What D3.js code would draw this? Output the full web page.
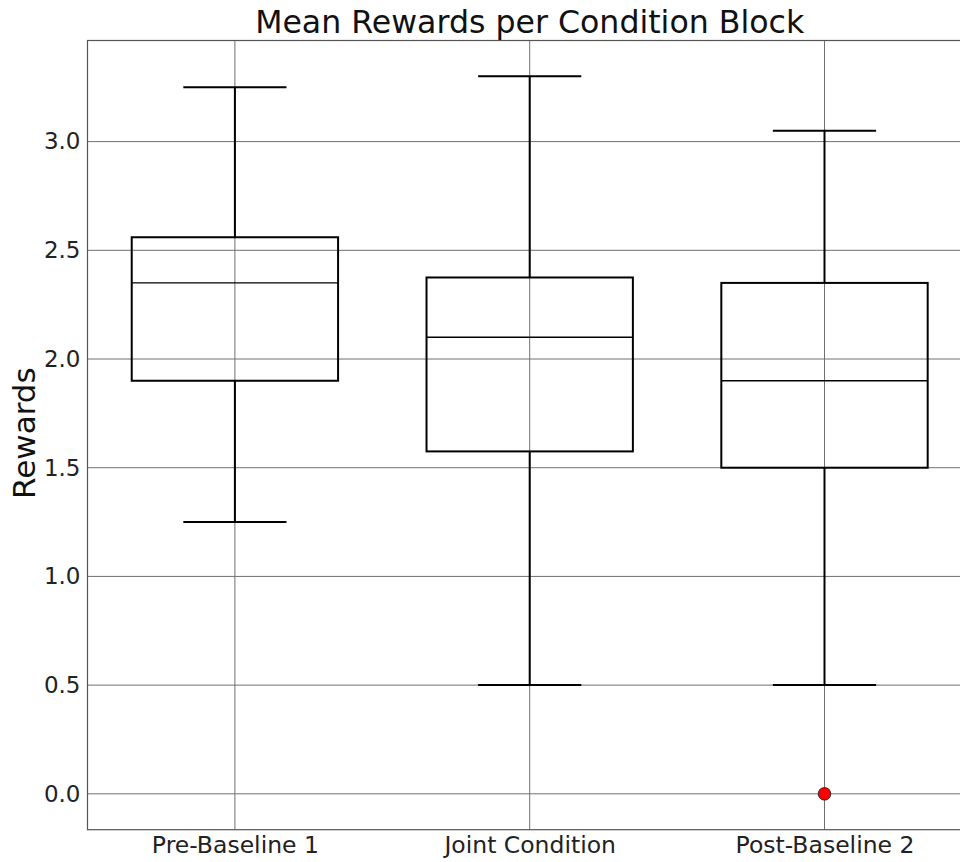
<!DOCTYPE html>
<html>
<head>
<meta charset="utf-8">
<script src="https://cdn.jsdelivr.net/npm/d3@7"></script>
<style>
  html, body { margin: 0; padding: 0; background: #fff; }
  svg { display: block; font-family: "DejaVu Sans", sans-serif; }
</style>
</head>
<body>
<svg id="chart" width="960" height="862"></svg>
<script>
// Data
const categories = ["Pre-Baseline 1", "Joint Condition", "Post-Baseline 2"];
const whiskerLow  = [1.25, 0.5, 0.5];
const q1Values    = [1.9, 1.575, 1.5];
const medians     = [2.35, 2.1, 1.9];
const q3Values    = [2.56, 2.375, 2.35];
const whiskerHigh = [3.25, 3.3, 3.05];
const outliers    = [[], [], [0.0]];
const yTicks      = [0.0, 0.5, 1.0, 1.5, 2.0, 2.5, 3.0];

(function () {
const svg = d3.select("#chart");
const pLeft = 87.5, pTop = 40.5, pBottom = 829.7, step = 294.8;
const pRight = pLeft + step * categories.length;

const x = d3.scaleLinear().domain([0.5, categories.length + 0.5]).range([pLeft, pRight]);
const y = d3.scaleLinear().domain([-0.165, 3.465]).range([pBottom, pTop]);

const boxW = step * 0.7;
const capW = boxW * 0.5;

// Grid
const grid = svg.append("g");
grid.selectAll("line.gy").data(yTicks).join("line")
  .attr("x1", pLeft).attr("x2", 960)
  .attr("y1", d => y(d)).attr("y2", d => y(d))
  .attr("stroke", "#707070").attr("stroke-width", 1);
grid.selectAll("line.gx").data(categories).join("line")
  .attr("x1", (d, i) => x(i + 1)).attr("x2", (d, i) => x(i + 1))
  .attr("y1", pTop).attr("y2", pBottom)
  .attr("stroke", "#707070").attr("stroke-width", 1);

const data = categories.map((c, i) => ({
  c, i, lo: whiskerLow[i], q1: q1Values[i], med: medians[i], q3: q3Values[i], hi: whiskerHigh[i], out: outliers[i]
}));

const g = svg.append("g");
const box = g.selectAll("g.box").data(data).join("g");
box.append("line")
  .attr("x1", d => x(d.i + 1)).attr("x2", d => x(d.i + 1))
  .attr("y1", d => y(d.q3)).attr("y2", d => y(d.hi))
  .attr("stroke", "#000").attr("stroke-width", 2);
box.append("line")
  .attr("x1", d => x(d.i + 1)).attr("x2", d => x(d.i + 1))
  .attr("y1", d => y(d.q1)).attr("y2", d => y(d.lo))
  .attr("stroke", "#000").attr("stroke-width", 2);
box.append("line")
  .attr("x1", d => x(d.i + 1) - capW / 2).attr("x2", d => x(d.i + 1) + capW / 2)
  .attr("y1", d => y(d.hi)).attr("y2", d => y(d.hi))
  .attr("stroke", "#000").attr("stroke-width", 2);
box.append("line")
  .attr("x1", d => x(d.i + 1) - capW / 2).attr("x2", d => x(d.i + 1) + capW / 2)
  .attr("y1", d => y(d.lo)).attr("y2", d => y(d.lo))
  .attr("stroke", "#000").attr("stroke-width", 2);
box.append("rect")
  .attr("x", d => x(d.i + 1) - boxW / 2).attr("width", boxW)
  .attr("y", d => y(d.q3)).attr("height", d => y(d.q1) - y(d.q3))
  .attr("fill", "none").attr("stroke", "#000").attr("stroke-width", 2);
box.append("line")
  .attr("x1", d => x(d.i + 1) - boxW / 2).attr("x2", d => x(d.i + 1) + boxW / 2)
  .attr("y1", d => y(d.med)).attr("y2", d => y(d.med))
  .attr("stroke", "#000").attr("stroke-width", 1.4);
box.selectAll("circle").data(d => d.out.map(v => ({ v, i: d.i }))).join("circle")
  .attr("cx", d => x(d.i + 1)).attr("cy", d => y(d.v)).attr("r", 6.3)
  .attr("fill", "#ff0000").attr("stroke", "#222").attr("stroke-width", 0.9);

// Frame
svg.append("rect")
  .attr("x", pLeft).attr("y", pTop).attr("width", pRight - pLeft).attr("height", pBottom - pTop)
  .attr("fill", "none").attr("stroke", "#555").attr("stroke-width", 1.2);

// Axes
const yAxis = d3.axisLeft(y).tickValues(yTicks).tickFormat(d3.format(".1f")).tickSize(0).tickPadding(7);
const ya = svg.append("g").attr("transform", `translate(${pLeft},0)`).call(yAxis);
ya.select(".domain").remove();
ya.selectAll("text").attr("font-size", 23).attr("fill", "#222").attr("font-family", "DejaVu Sans");

const xAxis = d3.axisBottom(x).tickValues(categories.map((c, i) => i + 1))
  .tickFormat((d) => categories[d - 1]).tickSize(0).tickPadding(7);
const xa = svg.append("g").attr("transform", `translate(0,${pBottom})`).call(xAxis);
xa.select(".domain").remove();
xa.selectAll("text").attr("font-size", 23.5).attr("fill", "#222").attr("font-family", "DejaVu Sans");

// Title
svg.append("text").attr("x", (pLeft + pRight) / 2).attr("y", 33)
  .attr("text-anchor", "middle").attr("font-size", 31.6).attr("fill", "#111")
  .text("Mean Rewards per Condition Block");

// Y label
svg.append("text")
  .attr("transform", `translate(35,${(pTop + pBottom) / 2 - 2}) rotate(-90)`)
  .attr("text-anchor", "middle").attr("font-size", 31).attr("fill", "#111")
  .text("Rewards");
})();
</script>
</body>
</html>
